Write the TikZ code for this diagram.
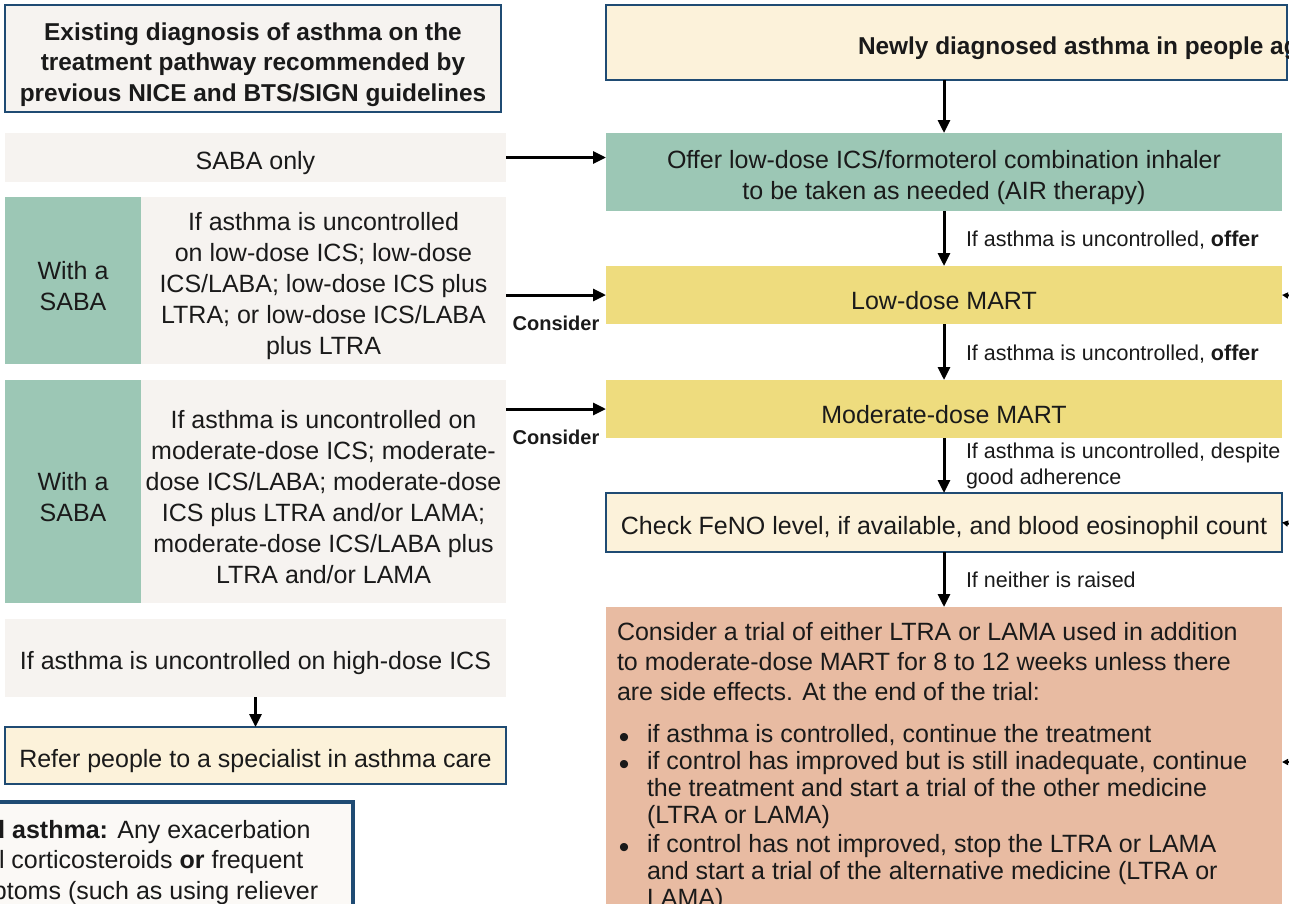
\documentclass[tikz,border=0pt]{standalone}
\usepackage{fontspec}
\setmainfont{Liberation Sans}
\usetikzlibrary{arrows.meta}
\definecolor{ink}{HTML}{1A1A1A}
\definecolor{navy}{HTML}{1F4B73}
\definecolor{paleb}{HTML}{F6F3F0}
\definecolor{sage}{HTML}{9CC7B5}
\definecolor{mart}{HTML}{EEDC7E}
\definecolor{cream}{HTML}{FCF2DA}
\definecolor{salmon}{HTML}{E8BBA2}
\definecolor{notebg}{HTML}{FBF9F6}
\begin{document}
\begin{tikzpicture}[x=1pt,y=-1pt,
  every node/.style={inner sep=0pt,outer sep=0pt,text=ink},
  body/.style={font=\fontsize{25}{31}\selectfont},
  hdr/.style={font=\fontsize{24.4}{30.5}\selectfont\bfseries},
  lab/.style={font=\fontsize{21.5}{26}\selectfont},
  cons/.style={font=\fontsize{20}{24}\selectfont\bfseries},
  btxt/.style={label={[body,align=center,yshift=-5.5pt]center:{#1}}},
  htxt/.style={label={[hdr,align=center,yshift=-6pt]center:{#1}}},
  arr/.style={line width=3pt,-{Triangle[length=13pt,width=12pt]}},
  stub/.style={line width=2pt,-{Triangle[length=6pt,width=6pt]}},
  framed/.style={draw=navy,line width=2pt},
  bul/.style={font=\fontsize{30}{30}\selectfont}]
\useasboundingbox (0,0) rectangle (1289,903);
\clip (0,0) rectangle (1289,903);

% ---------- left column ----------
\node[framed,fill=paleb,minimum width=496pt,minimum height=107pt,
  htxt={Existing diagnosis of asthma on the\\treatment pathway recommended by\\previous NICE and BTS/SIGN guidelines}] (exist) at (253,58.5) {};

\node[fill=paleb,minimum width=501pt,minimum height=49pt,btxt={SABA only}] (saba) at (255.5,157.5) {};

\node[fill=sage,minimum width=136pt,minimum height=167pt,btxt={With a\\SABA}] (g1) at (73,280.5) {};
\node[fill=paleb,minimum width=365pt,minimum height=167pt,
  btxt={If asthma is uncontrolled\\on low-dose ICS; low-dose\\ICS/LABA; low-dose ICS plus\\LTRA; or low-dose ICS/LABA\\plus LTRA}] (t1) at (323.5,280.5) {};

\node[fill=sage,minimum width=136pt,minimum height=223pt,btxt={With a\\SABA}] (g2) at (73,491.5) {};
\node[fill=paleb,minimum width=365pt,minimum height=223pt,
  btxt={If asthma is uncontrolled on\\moderate-dose ICS; moderate-\\dose ICS/LABA; moderate-dose\\ICS plus LTRA and/or LAMA;\\moderate-dose ICS/LABA plus\\LTRA and/or LAMA}] (t2) at (323.5,491.5) {};

\node[fill=paleb,minimum width=501pt,minimum height=78pt,btxt={If asthma is uncontrolled on high-dose ICS}] (high) at (255.5,658) {};
\node[framed,fill=cream,minimum width=501pt,minimum height=57pt,btxt={Refer people to a specialist in asthma care}] (refer) at (255.5,755.5) {};
\draw[arr] (high.south) -- (refer.north);

% note box (cropped)
\node[draw=navy,line width=4pt,fill=notebg,minimum width=370pt,minimum height=130pt] (note) at (168,867) {};
\node[body,anchor=base west] (n1) at (-10,838) {\textbf{d asthma:} Any exacerbation};
\node[body,anchor=base west] (n2) at (-1,868) {l corticosteroids \textbf{or} frequent};
\node[body,anchor=base west] (n3) at (-7,899) {ptoms (such as using reliever};

% ---------- right column ----------
\node[framed,fill=cream,minimum width=681pt,minimum height=75pt] (newly) at (946.5,42.5) {};
\node[hdr,anchor=west] (newlyt) at (858,48) {Newly diagnosed asthma in people ag};

\node[fill=sage,minimum width=676pt,minimum height=78pt,
  btxt={Offer low-dose ICS/formoterol combination inhaler\\to be taken as needed (AIR therapy)}] (air) at (944,172) {};
\node[fill=mart,minimum width=676pt,minimum height=58pt,btxt={Low-dose MART}] (lm) at (944,295) {};
\node[fill=mart,minimum width=676pt,minimum height=58pt,btxt={Moderate-dose MART}] (mm) at (944,409) {};
\node[framed,fill=cream,minimum width=676pt,minimum height=59pt,
  btxt={Check FeNO level, if available, and blood eosinophil count}] (feno) at (944,522.5) {};
\node[fill=salmon,minimum width=676pt,minimum height=303pt] (sal) at (944,758.5) {};

\node[body,anchor=north west,align=left,font=\fontsize{25}{30}\selectfont] (p1) at (617,622)
  {Consider a trial of either LTRA or LAMA used in addition\\to moderate-dose MART for 8 to 12 weeks unless there\\are side effects. At the end of the trial:};
\node[bul] (b1) at (624,740) {\textbullet};
\node[body,anchor=north west,align=left,font=\fontsize{25}{27}\selectfont] (i1) at (647,724)
  {if asthma is controlled, continue the treatment};
\node[bul] (b2) at (624,767) {\textbullet};
\node[body,anchor=north west,align=left,font=\fontsize{25}{27}\selectfont] (i2) at (647,751)
  {if control has improved but is still inadequate, continue\\the treatment and start a trial of the other medicine\\(LTRA or LAMA)};
\node[bul] (b3) at (624,850) {\textbullet};
\node[body,anchor=north west,align=left,font=\fontsize{25}{27}\selectfont] (i3) at (647,834)
  {if control has not improved, stop the LTRA or LAMA\\and start a trial of the alternative medicine (LTRA or\\LAMA)};

% vertical arrows
\draw[arr] (air.north |- newly.south) -- (air.north);
\draw[arr] (air.south) -- node[lab,anchor=west,xshift=22pt,yshift=-2pt] {If asthma is uncontrolled, \textbf{offer}} (lm.north);
\draw[arr] (lm.south) -- node[lab,anchor=west,xshift=22pt,yshift=-2pt] {If asthma is uncontrolled, \textbf{offer}} (mm.north);
\draw[arr] (mm.south) -- node[lab,anchor=west,xshift=22pt,align=left] {If asthma is uncontrolled, despite\\good adherence} (feno.north);
\draw[arr] (feno.south) -- node[lab,anchor=west,xshift=22pt] {If neither is raised} (sal.north);

% horizontal arrows
\draw[arr] (saba.east) -- (saba.east -| air.west);
\draw[arr] (t1.east |- lm.west) -- node[cons,anchor=north,yshift=-21pt] {Consider} (lm.west);
\draw[arr] (t2.east |- mm.west) -- node[cons,anchor=north,yshift=-21pt] {Consider} (mm.west);

% stubs from the right (cropped)
\coordinate (r1) at (1296,296);
\coordinate (r2) at (1296,525);
\coordinate (r3) at (1296,762);
\draw[stub] (r1) -- (lm.east);
\draw[stub] (r2) -- (feno.east);
\draw[stub] (r3) -- (sal.east |- r3);
\end{tikzpicture}
\end{document}
